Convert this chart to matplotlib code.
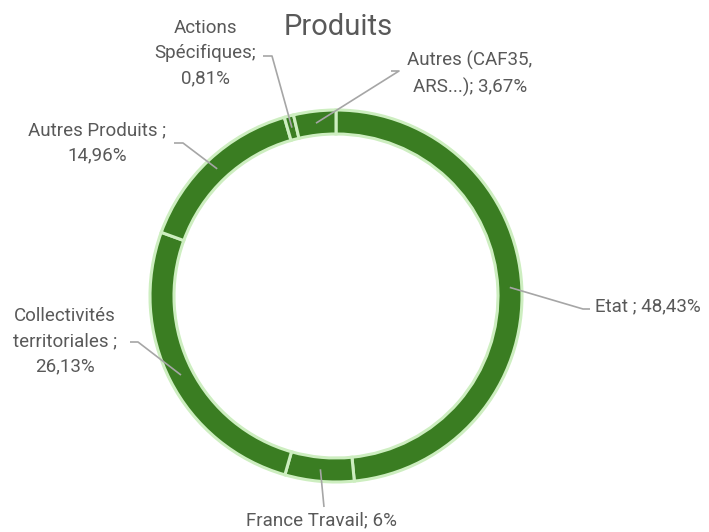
import numpy as np
import matplotlib.pyplot as plt

# parts des produits (%), dans l'ordre horaire depuis midi
labels = ["Etat", "France Travail", "Collectivités\nterritoriales", "Autres Produits",
          "Actions\nSpécifiques", "Autres (CAF35,\nARS...)"]
valeurs = [48.43, 6, 26.13, 14.96, 0.81, 3.67]
textes = ["Etat ; 48,43%", "France Travail; 6%", "Collectivités\nterritoriales ;\n26,13%",
          "Autres Produits ;\n14,96%", "Actions\nSpécifiques;\n0,81%", "Autres (CAF35,\nARS...); 3,67%"]

W, H = 709, 532
CX, CY = 336, H - 296
R, LARG = 186, 24

POLICE = ["Roboto", "DejaVu Sans"]
GRIS = "#595959"

fig = plt.figure(figsize=(W / 100, H / 100), dpi=100)
ax = fig.add_axes([0, 0, 1, 1])

wedges, _ = ax.pie(valeurs, center=(CX, CY), radius=R, startangle=90, counterclock=False,
                   colors=["#3a7d22"] * len(valeurs),
                   wedgeprops=dict(width=LARG, edgecolor="#cdeec0", linewidth=2.2))

ax.set_xlim(0, W)
ax.set_ylim(0, H)
ax.set_aspect("equal")
ax.axis("off")

ax.text(338, H - 27, "Produits", ha="center", va="center", fontsize=21, color=GRIS, family=POLICE)

# position du texte (pixels), coude du trait, alignement
places = [
    ((595, 306), [(583, 309), (590, 309)], "left"),
    ((322, 520), [(324, 507)], "center"),
    ((65, 341), [(138, 342), (130, 342)], "center"),
    ((97, 143), [(183, 143), (174, 143)], "center"),
    ((205, 53), [(272, 56), (263, 56)], "center"),
    ((470, 74), [(399, 71), (391, 71)], "center"),
]

r_mid = R - LARG / 2
for w, txt, (pos, coude, ha) in zip(wedges, textes, places):
    a = np.deg2rad((w.theta1 + w.theta2) / 2)
    x0, y0 = CX + r_mid * np.cos(a), CY + r_mid * np.sin(a)
    xs = [x0] + [p[0] for p in coude]
    ys = [y0] + [H - p[1] for p in coude]
    ax.plot(xs, ys, color="#a6a6a6", lw=1.2, solid_capstyle="butt")
    ax.text(pos[0], H - pos[1], txt, ha=ha, va="center", multialignment="center",
            fontsize=13.5, color=GRIS, family=POLICE, linespacing=1.5)

fig.savefig("out.png", dpi=100)
